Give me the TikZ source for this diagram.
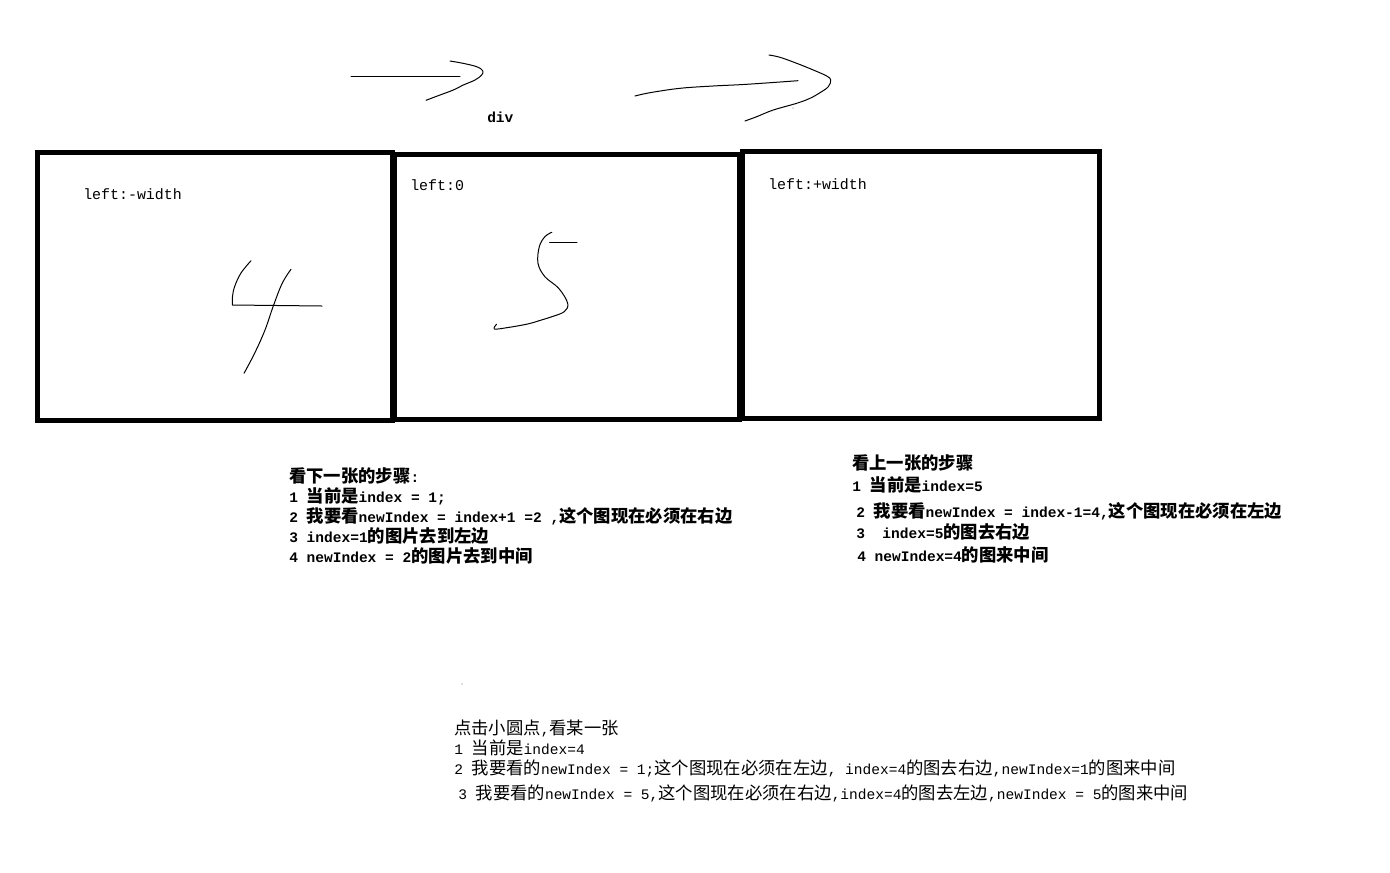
\documentclass[tikz,border=0pt]{standalone}
\usepackage{fontspec}
\setmainfont{Liberation Mono}
\newfontfamily\cj{Noto Sans CJK SC}
\newcommand\zh[1]{{\cj\fontsize{13}{15}\selectfont #1}}
\begin{document}
\begin{tikzpicture}[x=0.75pt,y=-0.75pt,
  box/.style={draw=black,line width=3.75pt,line join=miter},
  pen/.style={draw=black,line width=0.75pt,line cap=round,line join=round},
  txt/.style={anchor=base west,inner sep=0pt,font=\bfseries\fontsize{10.9}{13}\selectfont},
  txtr/.style={anchor=base west,inner sep=0pt,font=\fontsize{10.9}{13}\selectfont},
  lab/.style={anchor=base west,inner sep=0pt,font=\fontsize{11.2}{13}\selectfont}]
\useasboundingbox[fill=white] (0,0) rectangle (1390,872);

% frames
\draw[box] (37.5,152.5) rectangle (392,420);
\draw[box] (394,154) rectangle (739,419.5);
\draw[box] (742,151.5) rectangle (1099,418);

% labels in frames
\node[lab] (lw) at (83,199) {left:-width};
\node[lab] (l0) at (410,190) {left:0};
\node[lab] (lp) at (768,189) {left:+width};
\node[txt] (div) at (487,122) {div};

% arrow 1
\draw[pen] (351,76) -- (460,76);
\draw[pen] plot[smooth,tension=0.6] coordinates {(450,61) (463,63.3) (476.7,66.7) (482.7,70.7) (481.7,75) (475,80) (463.3,85) (453.3,90) (440,95) (426,100.3)};
% arrow 2
\draw[pen] plot[smooth,tension=0.6] coordinates {(635,96) (650,92.7) (680,88.3) (713,86) (746.7,84.3) (798,80.7)};
\draw[pen] plot[smooth,tension=0.6] coordinates {(769,55) (780,57.3) (796.7,63.3) (813.3,70) (826.7,76) (830.7,80) (828.3,86.7) (820,92.7) (810,98.3) (796.7,103.3) (773.3,110) (756.7,116.7) (745,121)};
\fill[gray] (793,108) circle (0.6);

% digit 4
\draw[pen] plot[smooth,tension=0.6] coordinates {(251,260.7) (240.8,273.3) (234.6,286.7) (232.5,296.7) (232.5,305)} -- (322,306);
\draw[pen] plot[smooth,tension=0.6] coordinates {(291,269.3) (282.2,283.3) (273.3,306) (265,330) (254.6,353.3) (244,373.3)};
% digit 5
\draw[pen] plot[smooth,tension=0.6] coordinates {(551.8,232.3) (544.9,236.7) (539.3,246.7) (538,263.3) (544.9,276.7) (558.7,288.3) (567.7,303.3) (564.2,311.7) (551.8,316.7) (541.4,320) (527.6,324) (506.8,327.7) (494.4,329) (496.5,324.3)};
\draw[pen] (549.7,242.5) -- (577,242.5);

% block 1
\node[txt] (a0) at (289,482) {\zh{看下一张的步骤}:};
\node[txt] (a1) at (289,502) {1 \zh{当前是}index = 1;};
\node[txt] (a2) at (289,522) {2 \zh{我要看}newIndex = index+1 =2 ,\zh{这个图现在必须在右边}};
\node[txt] (a3) at (289,542) {3 index=1\zh{的图片去到左边}};
\node[txt] (a4) at (289,562) {4 newIndex = 2\zh{的图片去到中间}};

% block 2
\node[txt] (b0) at (852,469) {\zh{看上一张的步骤}};
\node[txt] (b1) at (852,491) {1 \zh{当前是}index=5};
\node[txt] (b2) at (856,517) {2 \zh{我要看}newIndex = index-1=4,\zh{这个图现在必须在左边}};
\node[txt] (b3) at (856,538) {3\ \ index=5\zh{的图去右边}};
\node[txt] (b4) at (857,561) {4 newIndex=4\zh{的图来中间}};

\fill[gray] (462,684) circle (0.6);

% block 3
\node[txtr] (c0) at (454,734) {\zh{点击小圆点},\zh{看某一张}};
\node[txtr] (c1) at (454,754) {1 \zh{当前是}index=4};
\node[txtr] (c2) at (454,774) {2 \zh{我要看的}newIndex = 1;\zh{这个图现在必须在左边}, index=4\zh{的图去右边},newIndex=1\zh{的图来中间}};
\node[txtr] (c3) at (458,799) {3 \zh{我要看的}newIndex = 5,\zh{这个图现在必须在右边},index=4\zh{的图去左边},newIndex = 5\zh{的图来中间}};
\end{tikzpicture}
\end{document}
